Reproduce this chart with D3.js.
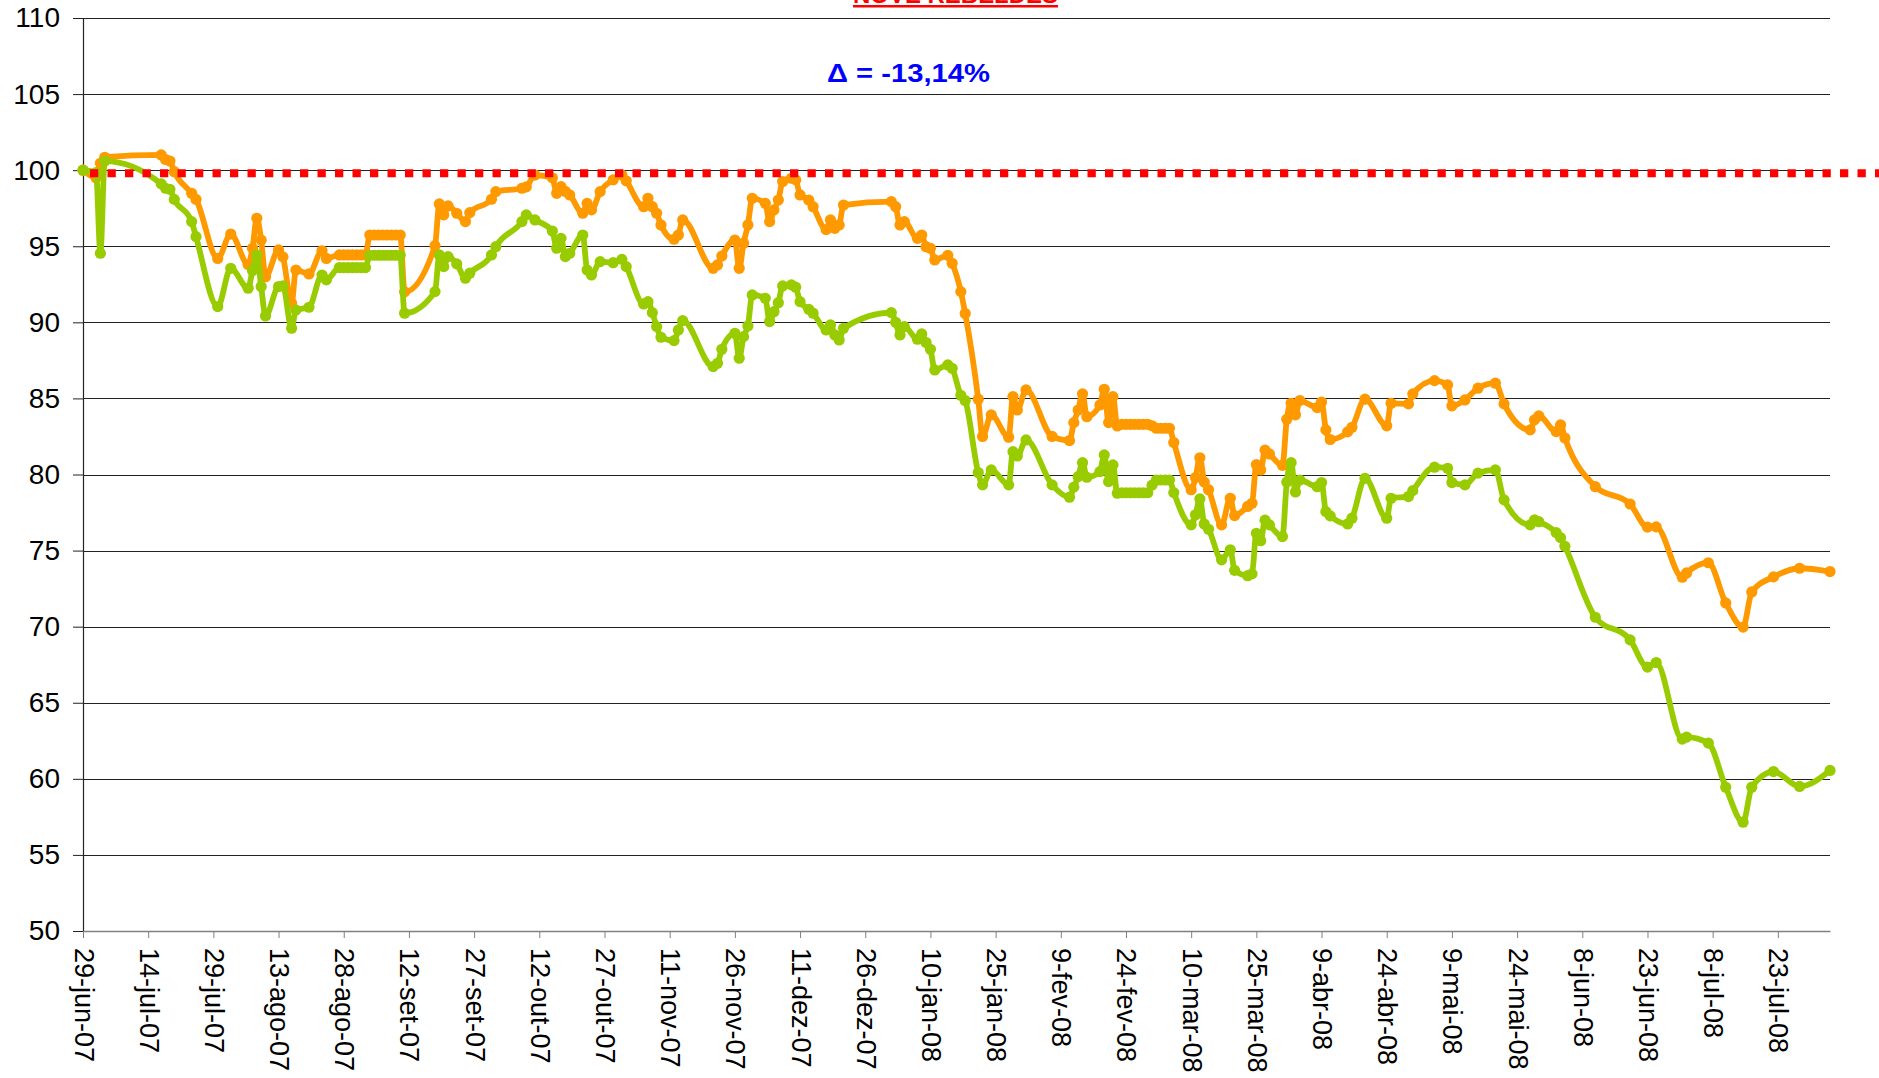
<!DOCTYPE html>
<html lang="pt">

<head>
  <meta charset="UTF-8" />
  <title>Delta</title>
  <script src="https://cdn.jsdelivr.net/npm/d3@7"></script>
  <style>
    body { margin: 0; background: #fff; }
    svg { display: block; font-family: "Liberation Sans", Arial, sans-serif; }
  </style>
</head>

<body>
  <script>
    // datas (uma por ponto) e os dois indices
    var dates = [
      "2007-06-29", "2007-07-02", "2007-07-03", "2007-07-04", "2007-07-17", "2007-07-18", "2007-07-19", "2007-07-20",
      "2007-07-24", "2007-07-25", "2007-07-30", "2007-08-02", "2007-08-06", "2007-08-07", "2007-08-08", "2007-08-09",
      "2007-08-10", "2007-08-13", "2007-08-14", "2007-08-16", "2007-08-17", "2007-08-20", "2007-08-23", "2007-08-24",
      "2007-08-27", "2007-08-28", "2007-08-29", "2007-08-30", "2007-08-31", "2007-09-01", "2007-09-02",
      "2007-09-03", "2007-09-04", "2007-09-05", "2007-09-06", "2007-09-07", "2007-09-08", "2007-09-09", "2007-09-10",
      "2007-09-11", "2007-09-18", "2007-09-19", "2007-09-20", "2007-09-21", "2007-09-23", "2007-09-25", "2007-09-26",
      "2007-10-01", "2007-10-02", "2007-10-08", "2007-10-09", "2007-10-11", "2007-10-15", "2007-10-16", "2007-10-17",
      "2007-10-18", "2007-10-19", "2007-10-22", "2007-10-23", "2007-10-24", "2007-10-26", "2007-10-29", "2007-10-31",
      "2007-11-01", "2007-11-05", "2007-11-06", "2007-11-07", "2007-11-08", "2007-11-09", "2007-11-12", "2007-11-13",
      "2007-11-14", "2007-11-21", "2007-11-22", "2007-11-23", "2007-11-26", "2007-11-27", "2007-11-28", "2007-11-29",
      "2007-11-30", "2007-12-03", "2007-12-04", "2007-12-05", "2007-12-06", "2007-12-07", "2007-12-09", "2007-12-10",
      "2007-12-11", "2007-12-13", "2007-12-14", "2007-12-17", "2007-12-18", "2007-12-19", "2007-12-20", "2007-12-21",
      "2008-01-01", "2008-01-02", "2008-01-03", "2008-01-04", "2008-01-07", "2008-01-08", "2008-01-09", "2008-01-10",
      "2008-01-11", "2008-01-14", "2008-01-15", "2008-01-17", "2008-01-18", "2008-01-21", "2008-01-22", "2008-01-24",
      "2008-01-28", "2008-01-29", "2008-01-30", "2008-02-01", "2008-02-07", "2008-02-11", "2008-02-12", "2008-02-13",
      "2008-02-14", "2008-02-15", "2008-02-18", "2008-02-19", "2008-02-20", "2008-02-21", "2008-02-22",
      "2008-02-23", "2008-02-24", "2008-02-25", "2008-02-26", "2008-02-27", "2008-02-28", "2008-02-29",
      "2008-03-01", "2008-03-02", "2008-03-03", "2008-03-04", "2008-03-05", "2008-03-06", "2008-03-10", "2008-03-11",
      "2008-03-12", "2008-03-13", "2008-03-14", "2008-03-17", "2008-03-19", "2008-03-20", "2008-03-23", "2008-03-24",
      "2008-03-25", "2008-03-26", "2008-03-27", "2008-03-28", "2008-03-31", "2008-04-01", "2008-04-02", "2008-04-03",
      "2008-04-04", "2008-04-08", "2008-04-09", "2008-04-10", "2008-04-11", "2008-04-15", "2008-04-16", "2008-04-19",
      "2008-04-24", "2008-04-25", "2008-04-29", "2008-04-30", "2008-05-05", "2008-05-08", "2008-05-09", "2008-05-12",
      "2008-05-15", "2008-05-19", "2008-05-21", "2008-05-27", "2008-05-28", "2008-05-29", "2008-06-02", "2008-06-03",
      "2008-06-04", "2008-06-11", "2008-06-19", "2008-06-23", "2008-06-25", "2008-07-01", "2008-07-02", "2008-07-07",
      "2008-07-11", "2008-07-15", "2008-07-17", "2008-07-22", "2008-07-28", "2008-08-04"
    ];

    var orangeValues = [
      100.0, 99.5, 100.45, 100.85, 101.0, 100.7, 100.6, 99.9,
      98.48, 98.08, 94.2, 95.8, 93.8, 94.87, 96.84, 95.4,
      93.0, 94.76, 94.3, 91.25, 93.44, 93.18, 94.7, 94.2,
      94.43, 94.43, 94.43, 94.43, 94.43, 94.43, 94.43,
      95.74, 95.74, 95.74, 95.74, 95.74, 95.74, 95.74, 95.74,
      92.0, 95.04, 97.78, 97.06, 97.65, 97.17, 96.62, 97.21,
      98.09, 98.59, 98.81, 98.9, 99.68, 99.5, 98.48, 98.92,
      98.6, 98.37, 97.17, 97.82, 97.39, 98.59, 99.36, 99.68,
      99.3, 97.6, 98.15, 97.6, 97.17, 96.4, 95.46, 95.74,
      96.73, 93.55, 93.77, 94.36, 95.41, 93.55, 95.2, 96.4,
      98.15, 97.82, 96.62, 97.39, 98.04, 99.25, 99.47, 99.36,
      98.37, 98.04, 97.6, 96.09, 96.73, 96.18, 96.4, 97.71,
      97.93, 97.6, 96.4, 96.62, 95.52, 95.74, 94.97, 94.87,
      94.1, 94.4, 93.88, 92.02, 90.58, 84.95, 82.5, 83.92,
      82.45, 85.12, 84.24, 85.56, 82.5, 82.23, 83.41, 84.24,
      85.3, 83.8, 84.57, 85.6, 83.41, 85.12, 83.19,
      83.3, 83.3, 83.3, 83.3, 83.3, 83.3, 83.3,
      83.2, 83.04, 83.04, 83.04, 83.04, 82.1, 79.0, 79.8,
      81.1, 79.5, 79.0, 76.69, 78.44, 77.3, 77.9, 78.11,
      80.65, 80.3, 81.6, 81.35, 80.6, 83.63, 84.68, 83.92,
      84.86, 84.4, 84.76, 82.93, 82.3, 82.8, 83.1, 84.95,
      83.2, 84.68, 84.64, 85.3, 86.17, 85.89, 84.51, 84.9,
      85.67, 86.0, 84.64, 82.93, 83.59, 83.85, 82.82, 83.26,
      82.4, 79.2, 78.06, 76.54, 76.56, 73.25, 73.53, 74.2,
      71.56, 69.97, 72.28, 73.27, 73.84, 73.62
    ];

    var greenValues = [
      100.0, 99.84, 94.54, 100.6, 99.1, 98.81, 98.74, 98.08,
      96.62, 95.63, 91.03, 93.55, 92.24, 93.4, 94.43, 92.35,
      90.42, 92.35, 92.39, 89.61, 90.81, 90.99, 93.11, 92.79,
      93.6, 93.6, 93.6, 93.6, 93.6, 93.6, 93.6,
      94.41, 94.41, 94.41, 94.41, 94.41, 94.41, 94.41, 94.41,
      90.6, 92.02, 94.43, 93.66, 94.32, 93.84, 92.9, 93.23,
      94.43, 94.97, 96.62, 97.06, 96.73, 96.0, 94.87, 95.52,
      94.32, 94.54, 95.74, 93.44, 93.11, 93.99, 93.92, 94.14,
      93.66, 91.21, 91.36, 90.64, 89.72, 89.02, 88.8, 89.5,
      90.11, 87.09, 87.31, 88.23, 89.28, 87.64, 89.06, 89.76,
      91.8, 91.58, 90.05, 90.7, 91.29, 92.39, 92.46, 92.31,
      91.36, 90.86, 90.6, 89.5, 89.83, 89.17, 88.84, 89.61,
      90.64, 90.0, 89.17, 89.72, 88.89, 89.24, 88.67, 88.23,
      86.87, 87.2, 86.98, 85.2, 84.86, 80.13, 79.32, 80.3,
      79.32, 81.5, 81.22, 82.27, 79.32, 78.51, 79.17, 79.86,
      80.78, 79.82, 80.19, 81.29, 79.53, 80.63, 78.77,
      78.8, 78.8, 78.8, 78.8, 78.8, 78.8, 78.8,
      79.3, 79.64, 79.64, 79.64, 79.64, 78.81, 76.69, 77.35,
      78.4, 76.75, 76.4, 74.39, 75.05, 73.7, 73.35, 73.47,
      76.14, 75.65, 77.0, 76.69, 75.92, 79.5, 80.78, 78.85,
      79.64, 79.2, 79.47, 77.56, 77.28, 76.75, 77.13, 79.75,
      77.13, 78.44, 78.55, 78.94, 80.48, 80.41, 79.47, 79.32,
      80.09, 80.3, 78.33, 76.69, 77.02, 76.9, 76.18, 75.85,
      75.28, 70.62, 69.13, 67.34, 67.64, 62.61, 62.74, 62.35,
      59.45, 57.15, 59.45, 60.48, 59.5, 60.55
    ];

    var tickLabels = [
      "29-jun-07", "14-jul-07", "29-jul-07", "13-ago-07", "28-ago-07", "12-set-07", "27-set-07",
      "12-out-07", "27-out-07", "11-nov-07", "26-nov-07", "11-dez-07", "26-dez-07", "10-jan-08",
      "25-jan-08", "9-fev-08", "24-fev-08", "10-mar-08", "25-mar-08", "9-abr-08", "24-abr-08",
      "9-mai-08", "24-mai-08", "8-jun-08", "23-jun-08", "8-jul-08", "23-jul-08"
    ];
    var yTicks = [50, 55, 60, 65, 70, 75, 80, 85, 90, 95, 100, 105, 110];
    var xDomain = ["2007-06-29", "2008-08-04"];
    var refValue = 99.8;
    var titleText = "NOVE REBELDES";
    var deltaText = "Δ = -13,14%";

    var w = 1879;
    var h = 1078;
    var margin = { top: 18, right: 49, bottom: 147, left: 83 };

    var ptLocale = d3.timeFormatLocale({
      dateTime: "%d/%m/%Y %X", date: "%d/%m/%Y", time: "%H:%M:%S", periods: ["AM", "PM"],
      days: ["domingo", "segunda", "terça", "quarta", "quinta", "sexta", "sábado"],
      shortDays: ["dom", "seg", "ter", "qua", "qui", "sex", "sáb"],
      months: ["janeiro", "fevereiro", "março", "abril", "maio", "junho", "julho", "agosto", "setembro", "outubro", "novembro", "dezembro"],
      shortMonths: ["jan", "fev", "mar", "abr", "mai", "jun", "jul", "ago", "set", "out", "nov", "dez"]
    });
    var parseTick = ptLocale.parse("%d-%b-%y");
    var parseDate = d3.timeParse("%Y-%m-%d");

    var tickDates = tickLabels.map(parseTick);

    var orange = dates.map(function(d, i) { return { date: parseDate(d), v: orangeValues[i] }; });
    var green = dates.map(function(d, i) { return { date: parseDate(d), v: greenValues[i] }; });

    var x = d3.scaleTime()
      .domain(xDomain.map(parseDate))
      .range([margin.left, w - margin.right]);

    var y = d3.scaleLinear()
      .domain([50, 110])
      .range([h - margin.bottom, margin.top]);

    var svg = d3.select("body").append("svg")
      .attr("width", w)
      .attr("height", h);

    // linhas de grelha
    svg.append("g")
      .selectAll("line")
      .data(yTicks.slice(1))
      .enter()
      .append("line")
      .attr("x1", margin.left)
      .attr("x2", w - margin.right)
      .attr("y1", function(d) { return Math.round(y(d)) + 0.5; })
      .attr("y2", function(d) { return Math.round(y(d)) + 0.5; })
      .attr("stroke", "#222")
      .attr("stroke-width", 1.2);

    // eixo y
    var yAxis = svg.append("g")
      .attr("transform", "translate(" + margin.left + ",0)")
      .call(d3.axisLeft(y).tickValues(yTicks).tickSize(10).tickSizeOuter(0).tickPadding(13));
    yAxis.select(".domain").attr("stroke", "#222").attr("stroke-width", 1.2);
    yAxis.selectAll(".tick line").attr("stroke", "#222");
    yAxis.selectAll("text")
      .attr("font-size", "28px")
      .attr("font-family", "'Liberation Sans', Arial, sans-serif")
      .attr("fill", "#000");

    // eixo x
    var xAxis = svg.append("g")
      .attr("transform", "translate(0," + (h - margin.bottom) + ")")
      .call(d3.axisBottom(x).tickValues(tickDates).tickSize(7).tickSizeOuter(0)
        .tickFormat(function(d, i) { return tickLabels[i]; }));
    xAxis.select(".domain").attr("stroke", "#808080").attr("stroke-width", 1.5);
    xAxis.selectAll(".tick line").attr("stroke", "#808080");
    xAxis.selectAll("text")
      .attr("font-size", "27px")
      .attr("font-family", "'Liberation Sans', Arial, sans-serif")
      .attr("fill", "#000")
      .attr("text-anchor", "start")
      .attr("dy", null)
      .attr("dominant-baseline", "central")
      .attr("transform", "translate(0,10) rotate(90)")
      .attr("x", 7)
      .attr("y", 0);

    var line = d3.line()
      .x(function(d) { return x(d.date); })
      .y(function(d) { return y(d.v); })
      .curve(d3.curveMonotoneX);

    var series = [
      { data: orange, color: "#FF9900" },
      { data: green, color: "#99CC00" }
    ];

    series.forEach(function(s) {
      svg.append("path")
        .datum(s.data)
        .attr("d", line)
        .attr("fill", "none")
        .attr("stroke", s.color)
        .attr("stroke-width", 5.8)
        .attr("stroke-linejoin", "round");

      svg.append("g")
        .selectAll("circle")
        .data(s.data)
        .enter()
        .append("circle")
        .attr("cx", function(d) { return x(d.date); })
        .attr("cy", function(d) { return y(d.v); })
        .attr("r", 5.6)
        .attr("fill", s.color);
    });

    // linha de referencia tracejada
    svg.append("line")
      .attr("x1", 90)
      .attr("x2", w)
      .attr("y1", y(refValue))
      .attr("y2", y(refValue))
      .attr("stroke", "#FF0000")
      .attr("stroke-width", 8)
      .attr("stroke-dasharray", "8.3 9.2");

    // titulo (cortado no topo)
    svg.append("text")
      .attr("x", 955.5)
      .attr("y", 3)
      .attr("text-anchor", "middle")
      .attr("font-size", "24px")
      .attr("font-weight", "bold")
      .attr("fill", "#FF0000")
      .attr("textLength", 205)
      .attr("lengthAdjust", "spacingAndGlyphs")
      .text(titleText);
    svg.append("rect")
      .attr("x", 853)
      .attr("y", 5)
      .attr("width", 205)
      .attr("height", 2.5)
      .attr("fill", "#FF0000");

    svg.append("text")
      .attr("x", 908.5)
      .attr("y", 81.5)
      .attr("text-anchor", "middle")
      .attr("font-size", "26px")
      .attr("font-weight", "bold")
      .attr("fill", "#0000FF")
      .attr("textLength", 163)
      .attr("lengthAdjust", "spacingAndGlyphs")
      .text(deltaText);
  </script>
</body>

</html>
